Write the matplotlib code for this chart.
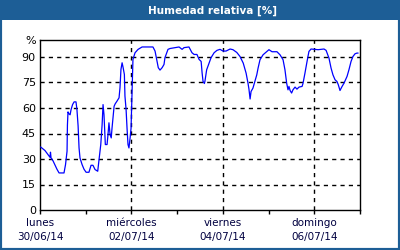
import matplotlib
matplotlib.use("Agg")
import matplotlib.pyplot as plt
from matplotlib.patches import Rectangle
import numpy as np

# hours since 30/06/14 00:00
hours = [0.4, 2.6, 4.2, 5.25, 5.5, 5.8, 6.8, 8.9, 10.0, 12.6, 13.4, 14.2, 14.4, 14.7, 15.2,
         15.8, 16.3, 17.1, 17.9, 18.9, 19.4, 20.0, 20.5, 21.0, 22.1, 23.1, 24.2, 25.7, 26.8,
         27.8, 28.9, 30.3, 31.0, 31.9, 32.6, 33.1, 33.6, 34.0, 34.3, 35.2, 35.7, 36.2, 36.8,
         37.4, 37.8, 38.3, 38.9, 39.5, 40.4, 41.5, 42.0, 42.5, 43.1, 43.6, 44.3, 44.6, 45.2,
         45.7, 46.2, 46.7, 47.3, 47.8, 48.3, 48.6, 48.8, 49.9, 51.5, 53.6, 56.7, 59.3, 60.4,
         61.4, 62.1, 63.0, 64.1, 65.1, 65.6, 67.2, 68.3, 70.9, 73.0, 74.6, 75.6, 78.2, 79.8,
         80.9, 82.4, 83.5, 84.6, 85.1, 85.6, 86.3, 86.6, 87.5, 88.2, 89.8, 91.4, 92.9, 94.5,
         96.1, 97.7, 99.8, 101.3, 103.3, 105.0, 106.7, 108.2, 109.2, 109.7, 110.3, 110.8,
         111.8, 113.8, 114.5, 115.5, 117.1, 119.0, 120.2, 121.8, 124.4, 126.0, 127.6, 128.6,
         129.5, 130.2, 130.7, 131.3, 132.1, 132.8, 133.9, 134.9, 136.0, 137.6, 138.1, 139.1,
         140.2, 141.2, 142.3, 146.0, 149.1, 150.2, 151.7, 152.8, 153.8, 154.9, 155.9, 156.6,
         157.5, 158.6, 159.6, 161.2, 162.2, 163.3, 164.3, 165.4, 166.4, 166.9]
humidity = [37, 35, 32.6, 31, 34, 30.6, 29, 24, 21.8, 21.8, 26.7, 34.6, 50, 57.7, 56.6,
            56, 59, 62, 63.6, 63.6, 59, 49.5, 36.5, 30.6, 26.7, 24, 22.2, 22.2, 26.3,
            26.3, 23.8, 22.8, 29.6, 38.5, 50, 62, 56, 46, 38.5, 38.5, 44.4, 51.3, 44.4,
            42.4, 48, 54, 61, 62.5, 64, 66, 72, 82.7, 86.6, 84, 79.7, 67, 59,
            48, 38.5, 36.5, 42.4, 48, 68, 81.7, 88.6, 92.5, 94.5, 95.9, 95.9, 95.9, 93.5,
            87.6, 83.7, 82.3, 83.7, 85.6, 89.6, 94.5, 95, 95.5, 95.9, 94.5, 95.5, 95.9, 92.5,
            91.5, 91.5, 88.6, 87.4, 80.7, 75.6, 74.4, 75.8, 82.5, 84.7, 89.6, 92.5, 93.9, 94.5,
            93.5, 93.5, 94.7, 94.3, 92.7, 90.3, 86.4, 80.5, 74.6, 71.1, 65.3, 69.7,
            71.7, 79.5, 83.5, 88.4, 91.3, 93.1, 94.3, 93.1, 93.1, 91.3, 88.4, 82.5,
            74.6, 70.7, 72.7, 70.3, 68.8, 70.7, 72.3, 71.1, 72.3, 72.7, 74.6, 80.5,
            87.4, 93.3, 94.7, 94.3, 94.7, 93.9, 89.4, 83.5, 79.5, 76.6, 75.6, 73.7,
            70.3, 72.7, 74.6, 78.6, 82.5, 87.4, 90.3, 91.9, 92.3, 92.3]

day_ticks = [0, 2, 4, 6]
day_labels = ["lunes\n30/06/14", "miércoles\n02/07/14", "viernes\n04/07/14", "domingo\n06/07/14"]
y_ticks = [0, 15, 30, 45, 60, 75, 90]

border = "#1d5e96"
fig = plt.figure(figsize=(4, 2.5), dpi=100)
fig.patch.set_facecolor("white")
W, H = 400, 250
# border and title bar
fig.patches.append(Rectangle((0, 0), 1, 1, transform=fig.transFigure, fill=False,
                             edgecolor=border, linewidth=3, zorder=0))
fig.patches.append(Rectangle((0, 1 - 20 / H), 1, 20 / H, transform=fig.transFigure,
                             facecolor=border, edgecolor="none", zorder=1))
fig.text(213 / W, 1 - 10.5 / H, "Humedad relativa [%]", color="white", fontsize=7.5,
         fontweight="bold", ha="center", va="center")

ax = fig.add_axes([40 / W, 1 - 210 / H, 320 / W, 170 / H])
x = np.array(hours) / 24.0
ax.plot(x, humidity, color="#0000ff", linewidth=0.9, zorder=3)
ax.set_xlim(0, 7)
ax.set_ylim(0, 100)

ax.set_yticks(y_ticks + [100])
ax.set_yticklabels([str(v) for v in y_ticks] + ["%"])
ax.tick_params(axis="y", length=0, pad=3, labelsize=8)
ax.set_xticks(day_ticks)
ax.set_xticklabels(day_labels, fontsize=7.5, color="#000040", linespacing=1.45)
ax.set_xticks([1, 3, 5, 7], minor=True)
ax.tick_params(axis="x", which="both", length=3, width=1, direction="out", pad=3)

for v in y_ticks[1:]:
    ax.axhline(v, color="black", linestyle=(0, (3, 3)), linewidth=1, zorder=1)
for d in [2, 4, 6]:
    ax.axvline(d, color="black", linestyle=(0, (3, 3)), linewidth=1, zorder=1)
for s in ax.spines.values():
    s.set_linewidth(1)
    s.set_color("black")

fig.savefig("out.png", dpi=100, facecolor="white")
